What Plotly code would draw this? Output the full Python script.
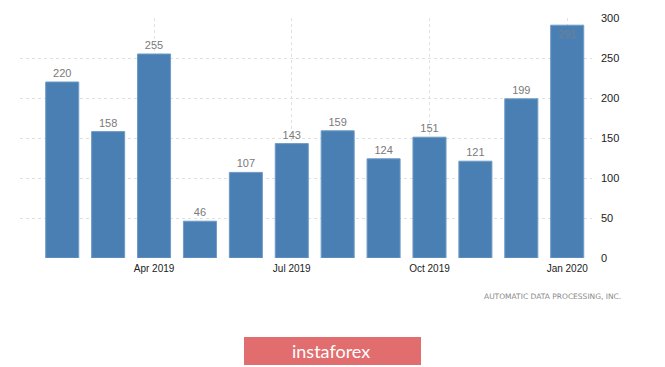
import plotly.graph_objects as go

months = ["Feb 2019", "Mar 2019", "Apr 2019", "May 2019", "Jun 2019", "Jul 2019",
          "Aug 2019", "Sep 2019", "Oct 2019", "Nov 2019", "Dec 2019", "Jan 2020"]
values = [220, 158, 255, 46, 107, 143, 159, 124, 151, 121, 199, 291]
tick_labels = ["Apr 2019", "Jul 2019", "Oct 2019", "Jan 2020"]
y_ticks = [0, 50, 100, 150, 200, 250, 300]

xpos = list(range(len(months)))
tick_pos = [months.index(t) for t in tick_labels]

text_pos = ["outside"] * (len(values) - 1) + ["inside"]
text_col = ["#7a7a7a"] * (len(values) - 1) + ["#6f7f93"]

# page offset (body margin) of 8px: figure coordinates = reference - 8
L, R, T, B = 12, 584, 10, 250
W, H = 657, 359
PW, PH = R - L, B - T

fig = go.Figure()
fig.add_trace(go.Bar(
    x=xpos, y=values, text=[str(v) for v in values],
    textposition=text_pos, insidetextanchor="end",
    textfont=dict(color=text_col, size=11, family="Liberation Sans"),
    marker=dict(color="#4a7fb4", line=dict(width=1, color="#6f9bc6")),
    cliponaxis=False,
))

fig.update_layout(
    width=W, height=H,
    margin=dict(l=L, r=W - R, t=T, b=H - B, autoexpand=False),
    paper_bgcolor="white", plot_bgcolor="white",
    bargap=0.28, showlegend=False,
    font=dict(family="Liberation Sans", size=10, color="#333333"),
    xaxis=dict(range=[-0.92, 11.54], tickvals=tick_pos, ticktext=tick_labels,
               showgrid=True, gridcolor="#e0e0e0", griddash="dot", gridwidth=1,
               zeroline=False, showline=False, ticks="", ticklabelstandoff=3,
               automargin=False, tickfont=dict(size=10, color="#222222")),
    yaxis=dict(range=[0, 300], side="right", tickvals=y_ticks,
               showgrid=True, gridcolor="#e0e0e0", griddash="dot", gridwidth=1,
               zeroline=False, showline=False, ticks="", ticklabelstandoff=8,
               automargin=False, tickfont=dict(size=11, color="#222222")),
)

def px_x(x):
    return (x - 8 - L) / PW

def px_y(y):
    return (B - (y - 8)) / PH

fig.add_annotation(text="AUTOMATIC DATA PROCESSING, INC.", xref="paper", yref="paper",
                   x=px_x(623), y=px_y(296),
                   xanchor="right", yanchor="middle", showarrow=False,
                   font=dict(size=7.5, color="#8a8a8a", family="DejaVu Sans"))

fig.add_shape(type="rect", xref="paper", yref="paper",
              x0=px_x(244), x1=px_x(421), y0=px_y(365), y1=px_y(337),
              fillcolor="#e26d6e", line=dict(width=0), layer="above")
fig.add_annotation(text="instaforex", xref="paper", yref="paper",
                   x=px_x(331), y=px_y(351),
                   xanchor="center", yanchor="middle", showarrow=False,
                   font=dict(size=18, color="white", family="Lato"))

fig.write_html("out.html")
